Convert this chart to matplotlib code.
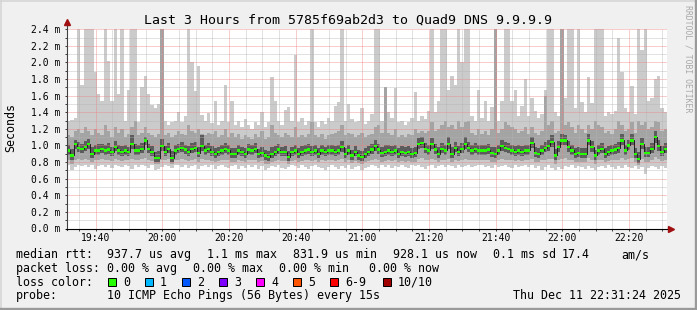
import matplotlib
matplotlib.use('Agg')
import matplotlib.pyplot as plt
from matplotlib.lines import Line2D
from matplotlib.patches import Rectangle
import numpy as np

W, H = 697, 310
MONO = 'DejaVu Sans Mono'

# one column per minute, 19:31:24 .. 22:31:24 (values in ms)
median = [
    0.94, 0.88, 1.02, 0.97, 0.96, 0.98, 1.02, 0.90, 0.94, 0.94,
    0.96, 0.94, 0.95, 0.92, 0.98, 0.94, 0.92, 0.94, 0.92, 1.02,
    0.94, 0.94, 0.96, 1.06, 0.96, 0.92, 0.85, 0.85, 0.99, 0.92,
    0.96, 0.85, 0.94, 0.96, 0.97, 0.95, 0.92, 0.96, 0.97, 0.91,
    0.99, 0.94, 0.96, 0.92, 0.90, 0.92, 0.94, 0.96, 0.94, 0.90,
    0.90, 0.94, 0.92, 0.90, 0.95, 0.94, 0.96, 0.90, 0.91, 0.88,
    0.86, 0.90, 0.92, 0.95, 0.92, 0.92, 0.86, 0.92, 0.94, 0.90,
    0.92, 0.94, 0.95, 0.92, 0.94, 0.90, 0.94, 0.92, 0.94, 0.94,
    0.92, 0.94, 0.98, 0.90, 0.94, 0.88, 0.92, 0.88, 0.86, 0.90,
    0.92, 0.95, 0.99, 0.95, 0.91, 0.92, 0.94, 0.92, 0.94, 0.90,
    0.92, 0.91, 0.92, 0.90, 0.91, 1.02, 1.03, 0.96, 0.94, 1.02,
    0.95, 0.90, 0.96, 0.94, 1.02, 0.90, 0.97, 0.92, 0.96, 1.02,
    0.97, 0.94, 0.96, 0.94, 0.94, 0.94, 0.95, 0.91, 0.90, 0.94,
    0.99, 0.97, 0.96, 0.94, 0.92, 0.94, 0.92, 0.94, 0.94, 1.03,
    0.91, 0.90, 0.94, 0.97, 0.99, 1.04, 0.88, 0.98, 1.06, 1.06,
    0.98, 0.94, 0.90, 0.91, 0.90, 0.90, 1.06, 0.98, 0.88, 0.94,
    0.96, 0.90, 0.92, 0.94, 0.95, 0.97, 1.06, 0.94, 1.00, 1.06,
    0.90, 0.84, 1.02, 0.91, 0.91, 0.96, 1.10, 0.99, 0.92, 0.96,
]

# outer smoke (fastest / slowest ping)
smoke_hi = [
    1.30, 1.31, 1.33, 2.50, 1.73, 2.50, 2.50, 2.50, 1.88, 1.62,
    1.53, 2.50, 2.02, 1.53, 2.50, 1.62, 2.50, 1.30, 1.67, 2.50,
    2.50, 1.28, 1.70, 1.84, 1.62, 1.49, 1.45, 1.50, 2.23, 1.30,
    1.25, 1.28, 1.30, 1.40, 1.28, 1.35, 2.50, 2.00, 1.65, 1.96,
    1.37, 1.30, 1.39, 1.27, 1.53, 1.25, 1.30, 1.73, 1.28, 1.53,
    1.25, 1.30, 1.22, 1.32, 1.25, 1.20, 1.28, 1.25, 1.40, 1.22,
    1.28, 1.82, 1.53, 1.30, 1.25, 1.43, 1.46, 1.30, 2.09, 1.28,
    1.33, 1.25, 1.30, 2.50, 1.28, 1.22, 1.30, 1.26, 1.33, 1.30,
    1.48, 1.52, 2.50, 1.30, 1.50, 1.32, 1.28, 1.30, 1.45, 1.26,
    1.30, 1.38, 2.50, 2.50, 1.30, 1.40, 1.40, 1.33, 1.69, 1.28,
    1.30, 1.25, 1.28, 1.33, 1.64, 1.30, 1.35, 1.32, 1.42, 2.50,
    1.40, 1.53, 2.50, 2.50, 1.67, 1.84, 1.73, 2.50, 2.01, 2.50,
    2.50, 1.35, 1.30, 1.67, 1.33, 1.53, 1.30, 1.46, 1.38, 1.30,
    1.53, 2.50, 2.50, 1.53, 1.67, 1.35, 1.48, 1.80, 1.35, 1.57,
    1.42, 1.33, 1.38, 1.67, 2.50, 2.50, 1.40, 1.35, 1.45, 1.57,
    2.50, 2.50, 1.45, 2.50, 1.52, 1.40, 1.82, 1.51, 2.50, 2.50,
    2.50, 1.35, 1.40, 1.38, 1.42, 2.30, 1.88, 1.45, 1.40, 1.71,
    1.38, 2.50, 2.15, 2.50, 1.53, 1.57, 1.80, 1.84, 1.45, 1.40,
]
smoke_lo = [
    0.76, 0.70, 0.74, 0.76, 0.75, 0.77, 0.74, 0.76, 0.72, 0.75,
    0.77, 0.74, 0.76, 0.73, 0.76, 0.75, 0.74, 0.77, 0.75, 0.72,
    0.76, 0.74, 0.77, 0.75, 0.73, 0.76, 0.70, 0.72, 0.74, 0.76,
    0.75, 0.73, 0.76, 0.77, 0.74, 0.76, 0.73, 0.75, 0.77, 0.72,
    0.75, 0.76, 0.74, 0.77, 0.72, 0.75, 0.76, 0.74, 0.73, 0.75,
    0.76, 0.72, 0.75, 0.73, 0.76, 0.74, 0.77, 0.72, 0.75, 0.70,
    0.73, 0.75, 0.74, 0.76, 0.73, 0.72, 0.74, 0.76, 0.75, 0.73,
    0.76, 0.74, 0.72, 0.75, 0.77, 0.74, 0.73, 0.71, 0.74, 0.76,
    0.74, 0.72, 0.75, 0.73, 0.76, 0.72, 0.74, 0.75, 0.70, 0.73,
    0.74, 0.76, 0.75, 0.73, 0.77, 0.74, 0.76, 0.73, 0.75, 0.74,
    0.76, 0.74, 0.73, 0.77, 0.75, 0.76, 0.74, 0.72, 0.75, 0.76,
    0.73, 0.75, 0.76, 0.74, 0.77, 0.75, 0.73, 0.76, 0.74, 0.75,
    0.76, 0.74, 0.75, 0.77, 0.76, 0.74, 0.75, 0.73, 0.76, 0.74,
    0.75, 0.76, 0.74, 0.73, 0.76, 0.74, 0.75, 0.77, 0.74, 0.76,
    0.73, 0.75, 0.71, 0.74, 0.76, 0.73, 0.71, 0.74, 0.72, 0.75,
    0.74, 0.76, 0.73, 0.75, 0.74, 0.72, 0.75, 0.73, 0.71, 0.74,
    0.75, 0.73, 0.76, 0.74, 0.72, 0.75, 0.73, 0.76, 0.74, 0.73,
    0.75, 0.72, 0.74, 0.66, 0.73, 0.75, 0.74, 0.72, 0.75, 0.73,
]

# middle smoke (2nd .. 9th ping)
mid_hi = [
    1.12, 1.10, 1.18, 1.20, 1.15, 1.22, 1.18, 1.12, 1.20, 1.15,
    1.12, 1.25, 1.18, 1.10, 1.22, 1.15, 1.20, 1.10, 1.14, 1.22,
    1.30, 1.12, 1.15, 1.22, 1.15, 1.12, 1.10, 1.14, 2.50, 1.12,
    1.15, 1.10, 1.12, 1.18, 1.14, 1.12, 1.25, 1.18, 1.15, 1.20,
    1.14, 1.12, 1.15, 1.14, 1.18, 1.10, 1.12, 1.20, 1.10, 1.15,
    1.10, 1.14, 1.08, 1.12, 1.10, 1.08, 1.14, 1.10, 1.18, 1.08,
    1.10, 1.25, 1.15, 1.12, 1.10, 1.15, 1.12, 1.10, 1.22, 1.10,
    1.12, 1.10, 1.14, 1.28, 1.12, 1.10, 1.14, 1.08, 1.12, 1.14,
    1.15, 1.18, 1.25, 1.12, 1.15, 1.14, 1.10, 1.12, 1.15, 1.10,
    1.12, 1.14, 1.22, 1.25, 1.15, 1.70, 1.15, 1.12, 1.20, 1.10,
    1.12, 1.10, 1.14, 1.12, 1.20, 1.15, 1.18, 1.15, 1.18, 1.28,
    1.18, 1.20, 1.25, 1.30, 1.22, 1.25, 1.20, 1.30, 1.22, 1.28,
    1.30, 1.15, 1.12, 1.20, 1.14, 1.18, 1.12, 1.20, 2.50, 1.15,
    1.20, 1.28, 1.25, 1.22, 1.20, 1.15, 1.18, 1.22, 1.14, 1.22,
    1.15, 1.12, 1.18, 1.60, 1.25, 1.30, 1.15, 1.18, 2.50, 1.25,
    1.28, 1.22, 1.15, 1.25, 1.20, 1.15, 1.25, 1.20, 1.30, 1.25,
    1.22, 1.15, 1.18, 1.14, 1.20, 1.30, 1.25, 1.18, 1.20, 1.28,
    1.15, 1.30, 1.25, 1.28, 1.20, 1.22, 1.30, 1.28, 1.18, 1.20,
]
mid_lo = [
    0.82, 0.78, 0.83, 0.84, 0.82, 0.84, 0.83, 0.80, 0.82, 0.83,
    0.84, 0.82, 0.83, 0.81, 0.84, 0.82, 0.81, 0.83, 0.82, 0.84,
    0.83, 0.82, 0.84, 0.85, 0.83, 0.81, 0.78, 0.78, 0.83, 0.82,
    0.84, 0.78, 0.82, 0.83, 0.84, 0.83, 0.81, 0.83, 0.84, 0.80,
    0.84, 0.82, 0.83, 0.81, 0.80, 0.81, 0.82, 0.83, 0.82, 0.80,
    0.80, 0.82, 0.81, 0.80, 0.83, 0.82, 0.83, 0.80, 0.81, 0.78,
    0.78, 0.80, 0.81, 0.83, 0.81, 0.81, 0.78, 0.81, 0.82, 0.80,
    0.81, 0.82, 0.83, 0.81, 0.82, 0.80, 0.82, 0.81, 0.82, 0.82,
    0.81, 0.82, 0.84, 0.80, 0.82, 0.79, 0.81, 0.79, 0.78, 0.80,
    0.81, 0.83, 0.84, 0.83, 0.80, 0.81, 0.82, 0.81, 0.82, 0.80,
    0.81, 0.80, 0.81, 0.80, 0.80, 0.84, 0.85, 0.83, 0.82, 0.84,
    0.83, 0.80, 0.83, 0.82, 0.84, 0.80, 0.83, 0.81, 0.83, 0.84,
    0.83, 0.82, 0.83, 0.82, 0.82, 0.82, 0.83, 0.80, 0.80, 0.82,
    0.84, 0.83, 0.83, 0.82, 0.81, 0.82, 0.81, 0.82, 0.82, 0.84,
    0.80, 0.80, 0.82, 0.83, 0.84, 0.84, 0.78, 0.83, 0.84, 0.85,
    0.83, 0.82, 0.80, 0.80, 0.80, 0.80, 0.85, 0.83, 0.78, 0.82,
    0.83, 0.80, 0.81, 0.82, 0.82, 0.83, 0.85, 0.82, 0.84, 0.85,
    0.80, 0.76, 0.84, 0.80, 0.80, 0.83, 0.86, 0.84, 0.81, 0.83,
]

# inner smoke (around the median)
core_hi = [
    1.00, 0.96, 1.06, 1.04, 1.02, 1.05, 1.08, 0.98, 1.00, 1.02,
    1.02, 1.00, 1.03, 0.98, 1.05, 1.00, 0.99, 1.01, 0.98, 1.12,
    1.02, 1.00, 1.03, 1.10, 1.02, 0.99, 0.92, 0.93, 1.08, 0.99,
    1.03, 0.93, 1.00, 1.02, 1.04, 1.01, 0.99, 1.03, 1.04, 0.98,
    1.12, 1.00, 1.03, 0.99, 0.97, 0.98, 1.00, 1.03, 1.00, 0.97,
    0.97, 1.00, 0.98, 0.97, 1.02, 1.00, 1.03, 0.96, 0.98, 0.95,
    0.93, 0.98, 0.99, 1.02, 0.98, 0.99, 0.93, 0.98, 1.01, 0.97,
    0.99, 1.00, 1.02, 0.99, 1.01, 0.97, 1.00, 0.98, 1.01, 1.00,
    0.99, 1.01, 1.05, 0.97, 1.01, 0.95, 0.99, 0.95, 0.93, 0.97,
    0.99, 1.02, 1.06, 1.02, 0.98, 1.00, 1.01, 0.99, 1.01, 0.97,
    0.99, 0.98, 0.99, 0.97, 0.98, 1.09, 1.10, 1.03, 1.01, 1.09,
    1.02, 0.98, 1.03, 1.01, 1.10, 0.98, 1.04, 0.99, 1.03, 1.10,
    1.04, 1.01, 1.03, 1.01, 1.01, 1.01, 1.02, 0.98, 0.98, 1.01,
    1.06, 1.04, 1.03, 1.01, 0.99, 1.01, 0.99, 1.01, 1.01, 1.10,
    0.98, 0.97, 1.01, 1.04, 1.06, 1.12, 0.96, 1.05, 1.14, 1.13,
    1.05, 1.01, 0.97, 0.98, 0.97, 0.97, 1.14, 1.05, 0.95, 1.01,
    1.03, 0.97, 0.99, 1.01, 1.02, 1.04, 1.14, 1.01, 1.07, 1.14,
    0.97, 0.92, 1.09, 0.98, 0.98, 1.03, 1.18, 1.06, 0.99, 1.03,
]
core_lo = [
    0.89, 0.83, 0.96, 0.92, 0.91, 0.93, 0.96, 0.85, 0.89, 0.89,
    0.91, 0.89, 0.90, 0.87, 0.93, 0.89, 0.87, 0.89, 0.87, 0.96,
    0.89, 0.89, 0.91, 1.00, 0.91, 0.87, 0.80, 0.80, 0.93, 0.87,
    0.91, 0.80, 0.89, 0.91, 0.92, 0.90, 0.87, 0.91, 0.92, 0.86,
    0.93, 0.89, 0.91, 0.87, 0.85, 0.87, 0.89, 0.91, 0.89, 0.85,
    0.85, 0.89, 0.87, 0.85, 0.90, 0.89, 0.91, 0.85, 0.86, 0.83,
    0.81, 0.85, 0.87, 0.90, 0.87, 0.87, 0.81, 0.87, 0.89, 0.85,
    0.87, 0.89, 0.90, 0.87, 0.89, 0.85, 0.89, 0.87, 0.89, 0.89,
    0.87, 0.89, 0.92, 0.85, 0.89, 0.83, 0.87, 0.83, 0.81, 0.85,
    0.87, 0.90, 0.93, 0.90, 0.86, 0.87, 0.89, 0.87, 0.89, 0.85,
    0.87, 0.86, 0.87, 0.85, 0.86, 0.96, 0.97, 0.91, 0.89, 0.96,
    0.90, 0.85, 0.91, 0.89, 0.96, 0.85, 0.92, 0.87, 0.91, 0.96,
    0.92, 0.89, 0.91, 0.89, 0.89, 0.89, 0.90, 0.86, 0.85, 0.89,
    0.93, 0.92, 0.91, 0.89, 0.87, 0.89, 0.87, 0.89, 0.89, 0.97,
    0.86, 0.85, 0.89, 0.92, 0.93, 0.98, 0.83, 0.92, 1.00, 1.00,
    0.92, 0.89, 0.85, 0.86, 0.85, 0.85, 1.00, 0.92, 0.83, 0.89,
    0.91, 0.85, 0.87, 0.89, 0.90, 0.91, 1.00, 0.89, 0.94, 1.00,
    0.85, 0.79, 0.96, 0.86, 0.86, 0.91, 1.03, 0.93, 0.87, 0.91,
]

start_label = '19:31:24'
x_labels = ['19:40', '20:00', '20:20', '20:40', '21:00', '21:20', '21:40', '22:00', '22:20']
y_labels = ['0.0 m', '0.2 m', '0.4 m', '0.6 m', '0.8 m', '1.0 m', '1.2 m',
            '1.4 m', '1.6 m', '1.8 m', '2.0 m', '2.2 m', '2.4 m']
y_values = [0.0, 0.2, 0.4, 0.6, 0.8, 1.0, 1.2, 1.4, 1.6, 1.8, 2.0, 2.2, 2.4]

title = 'Last 3 Hours from 5785f69ab2d3 to Quad9 DNS 9.9.9.9'
legend_rows = [
    [(16, 'median rtt:'), (107, '937.7 us avg'), (207, '1.1 ms max'), (293, '831.9 us min'),
     (393, '928.1 us now'), (493, '0.1 ms sd'), (562, '17.4'), (621.5, 'am/s')],
    [(16, 'packet loss:'), (107, '0.00 % avg'), (193, '0.00 % max'), (279, '0.00 % min'),
     (369, '0.00 % now')],
    [(16, 'loss color:')],
    [(16, 'probe:'), (107, '10 ICMP Echo Pings (56 Bytes) every 15s'),
     (513, 'Thu Dec 11 22:31:24 2025')],
]
loss_labels = ['0', '1', '2', '3', '4', '5', '6-9', '10/10']
loss_colors = ['#26ff00', '#00b8ff', '#0059ff', '#7e00ff', '#ff00ff', '#ff5500', '#ff0000', '#a10000']
loss_box_x = [108, 145, 182, 219, 256, 293, 330, 383]


def to_min(label):
    parts = [int(p) for p in label.split(':')]
    secs = parts[0] * 3600 + parts[1] * 60 + (parts[2] if len(parts) > 2 else 0)
    return secs / 60.0


def fx(x):
    return x / W


def fy(y):
    return 1 - y / H


def stepped(vals):
    return np.append(vals, vals[-1])


fig = plt.figure(figsize=(W / 100, H / 100), dpi=100, facecolor='#f0f0f0')
top_px, bot_px, left_px, right_px = 29.2, 228.5, 67, 667
ax = fig.add_axes([fx(left_px), fy(bot_px), (right_px - left_px) / W, (bot_px - top_px) / H])
ax.set_facecolor('white')

edges = np.arange(len(median) + 1)
ax.fill_between(edges, stepped(smoke_lo), stepped(smoke_hi), step='post', color='#cbcbcb', lw=0, zorder=1)
ax.fill_between(edges, stepped(mid_lo), stepped(mid_hi), step='post', color='#a4a4a4', lw=0, zorder=1.1)
ax.fill_between(edges, stepped(core_lo), stepped(core_hi), step='post', color='#5c5c5c', lw=0, zorder=1.2)
ax.step(edges, stepped(median), where='post', color='#202020', lw=0.7, zorder=3)
ax.bar(np.arange(len(median)), 0.028, bottom=np.array(median) - 0.014, width=1, align='edge',
       color='#26ff00', lw=0, zorder=4)

t0 = to_min(start_label)
major_x = [to_min(l) - t0 for l in x_labels]
minor_x = np.arange(major_x[0] - 5, 180, 5)
ax.set_xlim(0, 180)
ax.set_ylim(0, 2.4)
ax.set_xticks(major_x)
ax.set_xticklabels(x_labels)
ax.set_xticks(minor_x, minor=True)
ax.set_yticks(y_values)
ax.set_yticklabels(y_labels)
ax.set_yticks(np.arange(0.1, 2.4, 0.2), minor=True)

ax.set_axisbelow(False)
ax.grid(which='minor', color='#b4b4b4', linestyle=(0, (1, 1)), lw=0.72, alpha=0.8)
ax.grid(which='major', color='#f08080', linestyle=(0, (1, 1)), lw=0.72, alpha=0.8)
ax.tick_params(which='both', length=1.5, width=0.72, color='#404040', direction='out')
ax.tick_params(axis='x', which='major', labelsize=7, pad=2)
ax.tick_params(axis='y', which='major', labelsize=7, pad=3.6)
for lab in ax.get_xticklabels() + ax.get_yticklabels():
    lab.set_family(MONO)
for s in ax.spines.values():
    s.set_visible(False)

# axes with arrows
fig.add_artist(Line2D([fx(left_px), fx(left_px)], [fy(bot_px + 1), fy(23)], color='#404040', lw=0.8))
fig.add_artist(Line2D([fx(left_px - 1), fx(670)], [fy(bot_px), fy(bot_px)], color='black', lw=0.8))
fig.add_artist(Line2D([fx(left_px)], [fy(21.5)], marker='^', ms=4, color='#a01010', lw=0))
fig.add_artist(Line2D([fx(671)], [fy(bot_px)], marker='>', ms=4, color='#a01010', lw=0))

# frame shading
fig.add_artist(Line2D([0, 1], [fy(0.7), fy(0.7)], color='#d4d4d4', lw=1.1))
fig.add_artist(Line2D([fx(0.7), fx(0.7)], [0, 1], color='#d4d4d4', lw=1.1))
fig.add_artist(Line2D([0, 1], [fy(H - 1.2), fy(H - 1.2)], color='#9a9a9a', lw=1.7))
fig.add_artist(Line2D([fx(W - 1.2), fx(W - 1.2)], [0, 1], color='#9a9a9a', lw=1.7))

fig.text(fx(348), fy(23.5), title, family=MONO, fontsize=9.55, ha='center', va='baseline')
fig.text(fx(10.5), fy(127), 'Seconds', family=MONO, fontsize=8.4, rotation=90, ha='center', va='center')
fig.text(fx(688), fy(5), 'RRDTOOL / TOBI OETIKER', family=MONO, fontsize=5.9, color='#a8a8a8',
         rotation=270, ha='center', va='top')

baselines = [258.3, 271.9, 285.6, 299.3]
for row, base in zip(legend_rows, baselines):
    for x, txt in row:
        fig.text(fx(x), fy(base), txt, family=MONO, fontsize=8.4, ha='left', va='baseline')

for bx, lab, col in zip(loss_box_x, loss_labels, loss_colors):
    fig.add_artist(Rectangle((fx(bx), fy(286)), 8 / W, 8 / H, facecolor=col, edgecolor='black',
                             lw=0.72, transform=fig.transFigure))
    fig.text(fx(bx + 15), fy(baselines[2]), lab, family=MONO, fontsize=8.4, ha='left', va='baseline')

fig.savefig('out.png', dpi=100, facecolor=fig.get_facecolor())
